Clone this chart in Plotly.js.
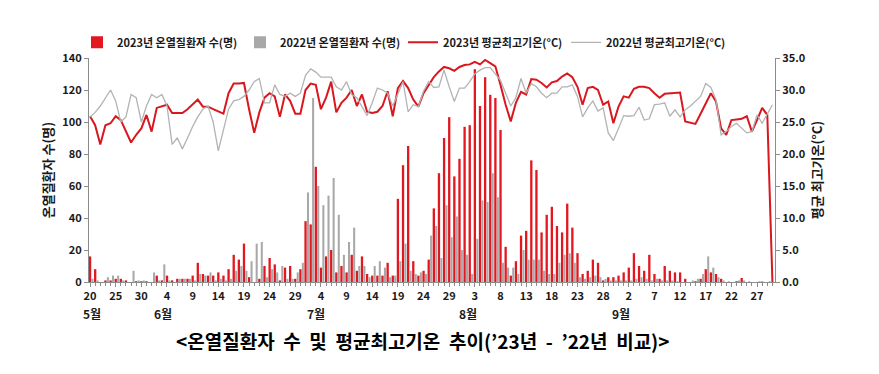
<!DOCTYPE html>
<html>
<head>
<meta charset="utf-8">
<script src="https://cdn.plot.ly/plotly-3.0.1.min.js"></script>
<style>body{margin:0;background:#fff}#chart{width:879px;height:374px}</style>
</head>
<body>
<div id="chart"></div>
<script>
// Day index 0 = 5월 20일 ... 133 = 9월 30일
const patients2023 = [16,8,0,1,1,2,2,1,0,0.5,0.5,0.5,0,4,1,4,1,2,2,2,4,12,5,4,4,6,4,8,17,14,24,3,0,2,10,15,11,1,9,10,2,8,38,36,72,9,16,20,6,10,6,17,7,16,5,4,4,4,12,4,52,73,85,13,4,7,14,46,68,90,103,66,77,97,98,133,110,128,117,115,95,22,4,13,29,32,76,70,31,42,47,35,31,49,34,18,5,7,14,12,1,3,3,4,6,9,18,10,7,17,5,2,10,7,6,6,2,0,0.5,2,8,6,5,2,0,0,0.5,2.5,0,0,0,0.3,0,0];
const patients2022 = [2,1,0,3,4,4,1,0,7,1,1,0,6,1,11,1,0,2,2,2,1,5,4,6,1,2,1,2,7,10,7,13,24,25,3,8,6,10,2,2,6,12,56,115,60,48,54,65,42,17,25,34,10,10,3,10,13,9,3,4,13,24,7,5,6,5,29,35,15,48,28,41,20,17,5,27,51,50,68,53,12,9,9,5,20,14,14,14,7,5,5,12,17,18,12,3,2,3,4,3,2,1,1,1,1,1,2,3,2,1,2,1,1,1,0.5,0,0,1,2,5,16,9,3,1,0.5,0,1,1,0.5,0,0.5,0,0.5,0];
const temp2023 = [25.9,24.5,21.5,24.5,24.8,25.9,25.3,23.5,21.8,23.0,24.0,26.1,23.5,27.2,27.4,27.7,26.4,26.4,26.4,27.0,27.8,28.5,27.4,27.4,27.0,26.6,26.3,29.5,31.0,31.0,31.1,27.0,23.3,26.5,28.8,29.5,29.0,25.8,29.3,28.3,26.3,26.3,30.0,31.0,30.8,27.0,28.8,31.3,26.5,28.0,28.8,30.0,27.5,29.3,26.6,26.4,26.6,27.5,29.8,25.9,30.3,31.4,30.3,28.5,27.4,29.5,30.8,32.0,32.9,33.6,33.4,33.0,33.6,33.9,34.0,34.4,34.0,34.7,34.2,33.7,30.8,27.7,25.1,28.0,29.7,29.3,31.7,31.6,31.1,30.4,31.2,31.4,32.1,32.6,32.0,30.5,27.7,30.3,30.5,30.0,27.7,28.2,24.8,27.4,29.0,28.8,30.2,30.5,30.5,30.3,29.5,28.8,29.4,29.5,29.6,29.6,25.1,24.9,24.7,26.3,27.8,29.5,28.2,24.0,23.0,25.3,25.4,25.5,25.9,23.5,25.3,27.2,26.1,0];
const temp2022 = [25.8,26.5,27.5,28.8,30.0,28.3,25.0,25.8,29.3,28.8,25.0,27.5,29.3,28.8,29.3,27.5,21.5,22.5,20.8,22.5,24.3,25.8,27.0,27.5,25.0,20.5,23.8,27.0,28.3,28.5,29.0,30.0,31.3,31.8,28.0,28.0,30.8,29.3,29.0,29.5,29.0,29.5,32.3,33.3,32.8,32.0,32.0,32.0,30.5,30.0,31.3,29.3,28.8,27.5,26.0,28.0,30.3,30.0,29.5,27.5,29.5,31.3,26.6,27.7,27.4,29.8,31.3,30.4,30.5,33.1,30.5,28.2,30.3,30.3,31.3,32.5,33.1,33.5,33.5,32.5,31.5,29.5,27.5,28.8,31.8,29.5,31.0,30.5,29.5,28.8,29.5,29.5,30.5,30.5,30.8,29.0,25.8,27.2,28.3,26.7,27.2,23.3,22.1,24.0,26.0,25.9,26.0,27.3,25.3,25.5,27.7,27.8,28.0,25.9,26.9,25.8,26.9,27.5,28.3,29.0,31.0,30.4,28.5,23.0,23.5,24.3,24.8,24.0,23.3,23.5,26.1,24.8,26.3,27.7];
const tickDays = [0,5,10,15,20,25,30,35,40,45,50,55,60,65,70,75,80,85,90,95,100,105,110,115,120,125,130];
const tickLabels = ['20','25','30','4','9','14','19','24','29','4','9','14','19','24','29','3','8','13','18','23','28','2','7','12','17','22','27'];
const monthLabels = ['5월','6월','7월','8월','9월'];
const seriesNames = ['2023년 온열질환자 수(명)','2022년 온열질환자 수(명)','2023년 평균최고기온(°C)','2022년 평균최고기온(°C)'];
const titleWords = ['&lt;온열질환자','수','및','평균최고기온','추이(’23년','-','’22년','비교)&gt;'];

const days = patients2023.map((_, i) => i);
const monthPaperX = [-0.012, 0.092, 0.315, 0.536, 0.76];
const FONT = 'Noto Sans CJK KR, Noto Sans, sans-serif';
const bold = (size, color) => ({family: FONT, size: size, color: color || '#1a1a1a', weight: 700});

const traces = [
  {type:'bar', x: days, y: patients2023, name: seriesNames[0], width: 0.45, offset: -0.22,
   marker:{color:'#E2171F'}, yaxis:'y'},
  {type:'bar', x: days, y: patients2022, name: seriesNames[1], width: 0.4, offset: 0.28,
   marker:{color:'#A8A8A8'}, yaxis:'y'},
  {type:'scatter', mode:'lines', x: days, y: temp2023, name: seriesNames[2], yaxis:'y2',
   line:{color:'#D8171E', width:2}},
  {type:'scatter', mode:'lines', x: days, y: temp2022, name: seriesNames[3], yaxis:'y2',
   line:{color:'#B3B3B3', width:1.3}}
];

const annotations = monthLabels.map((m, k) => ({
  text: m, x: monthPaperX[k], xref:'paper', y: -0.14, yref:'paper', xanchor:'left', yanchor:'middle',
  showarrow:false, font: bold(12)
}));
annotations.push({text: titleWords.join(' \u00a0'), x: 0.487, xref:'paper', xanchor:'center', y: -0.26, yref:'paper',
  yanchor:'middle', showarrow:false, font: bold(19, '#000')});

const layout = {
  width: 879, height: 374,
  margin: {l:89, r:104, t:58, b:92},
  paper_bgcolor:'#fff', plot_bgcolor:'#fff',
  font: bold(11),
  barmode:'overlay',
  showlegend: true,
  legend: {orientation:'h', x: -0.0175, xanchor:'left', y: 1.07, yanchor:'middle',
    font: bold(11), traceorder:'normal', itemwidth: 30, entrywidth: 118, entrywidthmode:'pixels',
    bgcolor:'rgba(0,0,0,0)'},
  xaxis: {range:[-0.2, 133.5], tickmode:'array', tickvals: tickDays, ticktext: tickLabels,
    ticks:'outside', ticklen:4, tickcolor:'#8c8c8c', showline:true, linecolor:'#8c8c8c', linewidth:1,
    showgrid:false, zeroline:false, tickfont: bold(11),
    minor:{tick0:0, dtick:1, ticks:'outside', ticklen:3, tickcolor:'#8c8c8c', showgrid:false}},
  yaxis: {range:[0,140], dtick:20, ticks:'outside', ticklen:4, tickcolor:'#8c8c8c', showline:true,
    linecolor:'#8c8c8c', showgrid:false, zeroline:false, tickfont: bold(11),
    title:{text:'온열질환자 수(명)', font: bold(13), standoff: 5}},
  yaxis2: {overlaying:'y', side:'right', range:[0,35], dtick:5, tickformat:'.1f', ticks:'outside', ticklen:4,
    tickcolor:'#8c8c8c', showline:true, linecolor:'#8c8c8c', showgrid:false, zeroline:false,
    tickfont: bold(11), title:{text:'평균 최고기온(°C)', font: bold(13), standoff: 8}},
  annotations: annotations
};

Plotly.newPlot('chart', traces, layout, {displayModeBar:false, staticPlot:true});
</script>
</body>
</html>
